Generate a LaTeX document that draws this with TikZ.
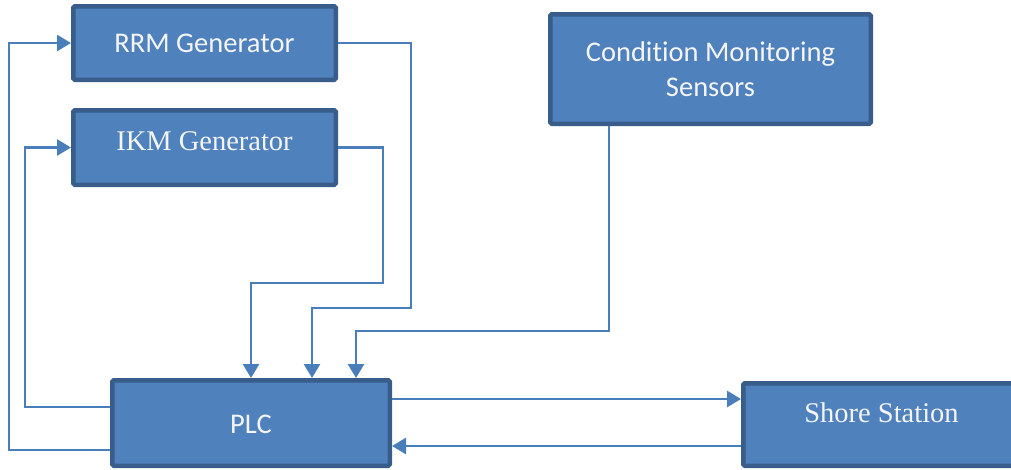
\documentclass[tikz,border=0pt]{standalone}
\usepackage{fontspec}
\usetikzlibrary{arrows.meta}
\newfontfamily\calfont[Ligatures=NoCommon]{Carlito}
\newfontfamily\tmsfont{Liberation Serif}
\definecolor{boxfill}{RGB}{79,129,189}
\definecolor{boxedge}{RGB}{56,93,138}
\definecolor{linecol}{RGB}{74,126,187}
\begin{document}
\begin{tikzpicture}[x=1pt,y=-1pt,
  blk/.style={draw=boxedge, fill=boxfill, line width=4.5pt, rounded corners=1.5pt, inner sep=0pt},
  lblc/.style={text=white!92!gray, font=\calfont\fontsize{28.5}{35}\selectfont, align=center},
  lblt/.style={text=white!92!gray, font=\tmsfont\fontsize{28.5}{35}\selectfont, align=center},
  conn/.style={draw=linecol, line width=2.8pt, -{Triangle[length=14pt,width=16pt]}}]
\clip (0,0) rectangle (1011,469);
\useasboundingbox (0,0) rectangle (1011,469);
\node[blk, minimum width=262.5pt, minimum height=73.5pt, label={[lblc]center:RRM Generator}] (rrm) at (204.5,43) {};
\node[blk, minimum width=262.5pt, minimum height=74.5pt, label={[lblt, yshift=6.5pt]center:IKM Generator}] (ikm) at (204.5,147.5) {};
\node[blk, minimum width=320.5pt, minimum height=109.5pt, label={[lblc]center:Condition Monitoring\\Sensors}] (cms) at (710.5,69) {};
\node[blk, minimum width=277.5pt, minimum height=85.5pt, label={[lblc, yshift=-1pt]center:PLC}] (plc) at (251,423) {};
\node[blk, minimum width=294.5pt, minimum height=82.5pt, label={[lblt, yshift=11.5pt, xshift=-9pt]center:Shore Station}] (shore) at (890.5,424.5) {};
% generators to PLC
\draw[conn] (rrm.east) -| (411,308) -| ([xshift=61pt]plc.north);
\draw[conn] (ikm.east) -| (383,283) -| (plc.north);
\draw[conn] ([xshift=-101.5pt]cms.south) -- (609,331) -| ([xshift=105pt]plc.north);
% PLC back to generators
\draw[conn] ([yshift=-27pt]plc.west) -| ([xshift=-62pt]rrm.west) -- (rrm.west);
\draw[conn] ([yshift=16pt]plc.west) -| ([xshift=-46pt]ikm.west) -- (ikm.west);
% PLC <-> shore
\draw[conn] ([yshift=24pt]plc.east) -- ([yshift=24pt]plc.east -| shore.west);
\draw[conn] ([yshift=-23pt]plc.east -| shore.west) -- ([yshift=-23pt]plc.east);
\end{tikzpicture}
\end{document}
